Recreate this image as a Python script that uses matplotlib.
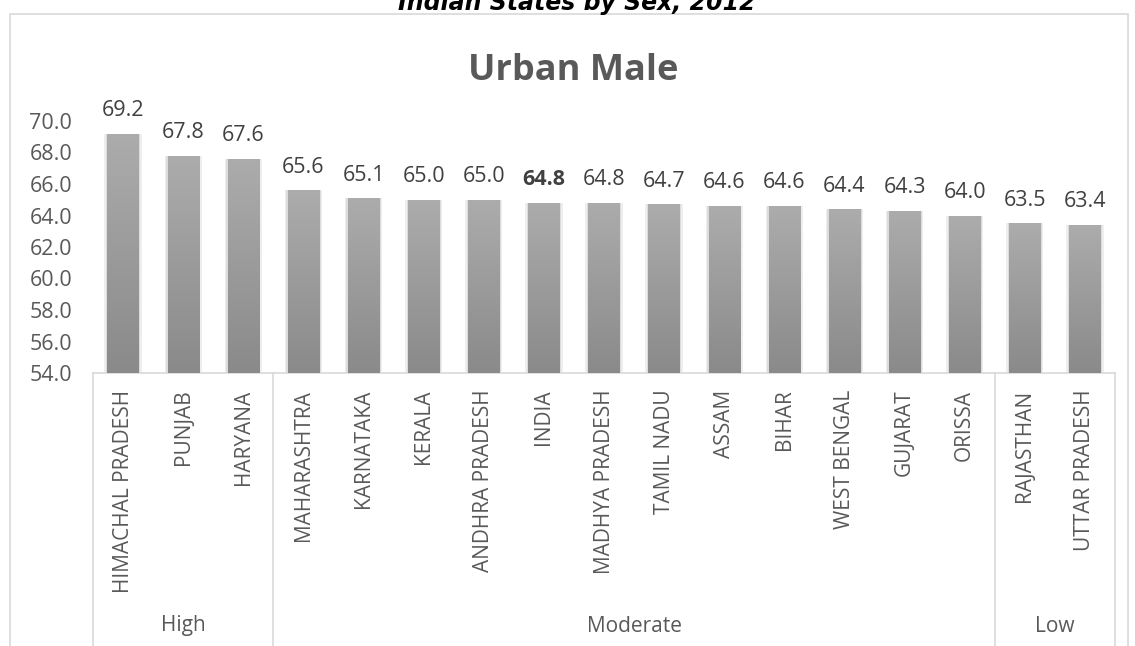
import matplotlib.pyplot as plt
import numpy as np
from matplotlib.colors import LinearSegmentedColormap
from matplotlib.patches import Rectangle
from matplotlib.lines import Line2D

plt.rcParams['font.family'] = ['Open Sans', 'DejaVu Sans']

# data
states = ["HIMACHAL PRADESH", "PUNJAB", "HARYANA", "MAHARASHTRA", "KARNATAKA",
          "KERALA", "ANDHRA PRADESH", "INDIA", "MADHYA PRADESH", "TAMIL NADU",
          "ASSAM", "BIHAR", "WEST BENGAL", "GUJARAT", "ORISSA", "RAJASTHAN",
          "UTTAR PRADESH"]
values = [69.2, 67.8, 67.6, 65.6, 65.1, 65.0, 65.0, 64.8, 64.8, 64.7,
          64.6, 64.6, 64.4, 64.3, 64.0, 63.5, 63.4]
groups = ["High", "Moderate", "Low"]
group_sizes = [3, 12, 2]
y_ticks = [54, 56, 58, 60, 62, 64, 66, 68, 70]

W, H = 1135, 646
fig = plt.figure(figsize=(W / 100, H / 100), dpi=100)

# chart frame
fig.patches.append(Rectangle((10 / W, -0.05), 1118 / W, 1.05 - 14 / H,
                             transform=fig.transFigure, fill=False,
                             edgecolor='#d9d9d9', linewidth=1.2))

# super title, cut off at the top edge as in the source
fig.text(0.508, 1 - 10 / H, "Indian States by Sex, 2012", ha='center',
         va='baseline', fontsize=17, fontweight='bold', style='italic',
         family='DejaVu Sans', color='black')

fig.text(0.505, 1 - 71 / H, "Urban Male", ha='center', va='center',
         fontsize=26, fontweight='bold', color='#595959')

left, right = 93 / W, 1115 / W
bottom, top = 1 - 373 / H, 1 - 121 / H
ax = fig.add_axes([left, bottom, right - left, top - bottom])

x = np.arange(len(states))

# soft shadow behind bars
ax.bar(x, np.array(values) - 54, bottom=54, width=0.62, color='#eeeeee', zorder=1)
ax.bar(x, np.array(values) - 54, bottom=54, width=0.57, color='#dcdcdc', zorder=1)
bars = ax.bar(x, np.array(values) - 54, bottom=54, width=0.52, color='#9a9a9a', zorder=2)

cmap = LinearSegmentedColormap.from_list('g', ['#8a8a8a', '#acacac'])
grad = np.linspace(0, 1, 256).reshape(-1, 1)
for b in bars:
    x0, y0 = b.get_x(), b.get_y()
    im = ax.imshow(grad, cmap=cmap, origin='lower', aspect='auto',
                   extent=[x0, x0 + b.get_width(), y0, y0 + b.get_height()], zorder=3)
    im.set_clip_path(b)
ax.set_xlim(-0.5, len(states) - 0.5)
ax.set_ylim(54, 70)

for i, v in enumerate(values):
    bold = states[i] == "INDIA"
    ax.text(i, v + 0.8, f"{v:.1f}", ha='center', va='bottom', fontsize=15.5,
            color='#404040', fontweight='bold' if bold else 'normal', clip_on=False)

ax.set_yticks(y_ticks)
ax.set_yticklabels([f"{t:.1f}" for t in y_ticks], fontsize=15.5, color='#595959')
ax.tick_params(axis='y', length=0, pad=15)
ax.set_xticks(x)
ax.set_xticklabels(states, rotation=90, fontsize=15, color='#595959', va='top')
ax.tick_params(axis='x', length=0, pad=12)

for s in ['top', 'right', 'left']:
    ax.spines[s].set_visible(False)
ax.spines['bottom'].set_color('#d9d9d9')
ax.spines['bottom'].set_linewidth(1.2)

# group separators and labels
line_bottom = -0.05
edges = np.concatenate([[0], np.cumsum(group_sizes)])
for e in edges:
    xf = left + (right - left) * e / len(states)
    fig.add_artist(Line2D([xf, xf], [bottom, line_bottom], transform=fig.transFigure,
                          color='#d9d9d9', linewidth=1.2))
for g, a, b in zip(groups, edges[:-1], edges[1:]):
    xm = left + (right - left) * (a + b) / 2 / len(states)
    fig.text(xm, 1 - 626 / H, g, ha='center', va='center', fontsize=15, color='#595959')

fig.savefig("out.png", dpi=100)
